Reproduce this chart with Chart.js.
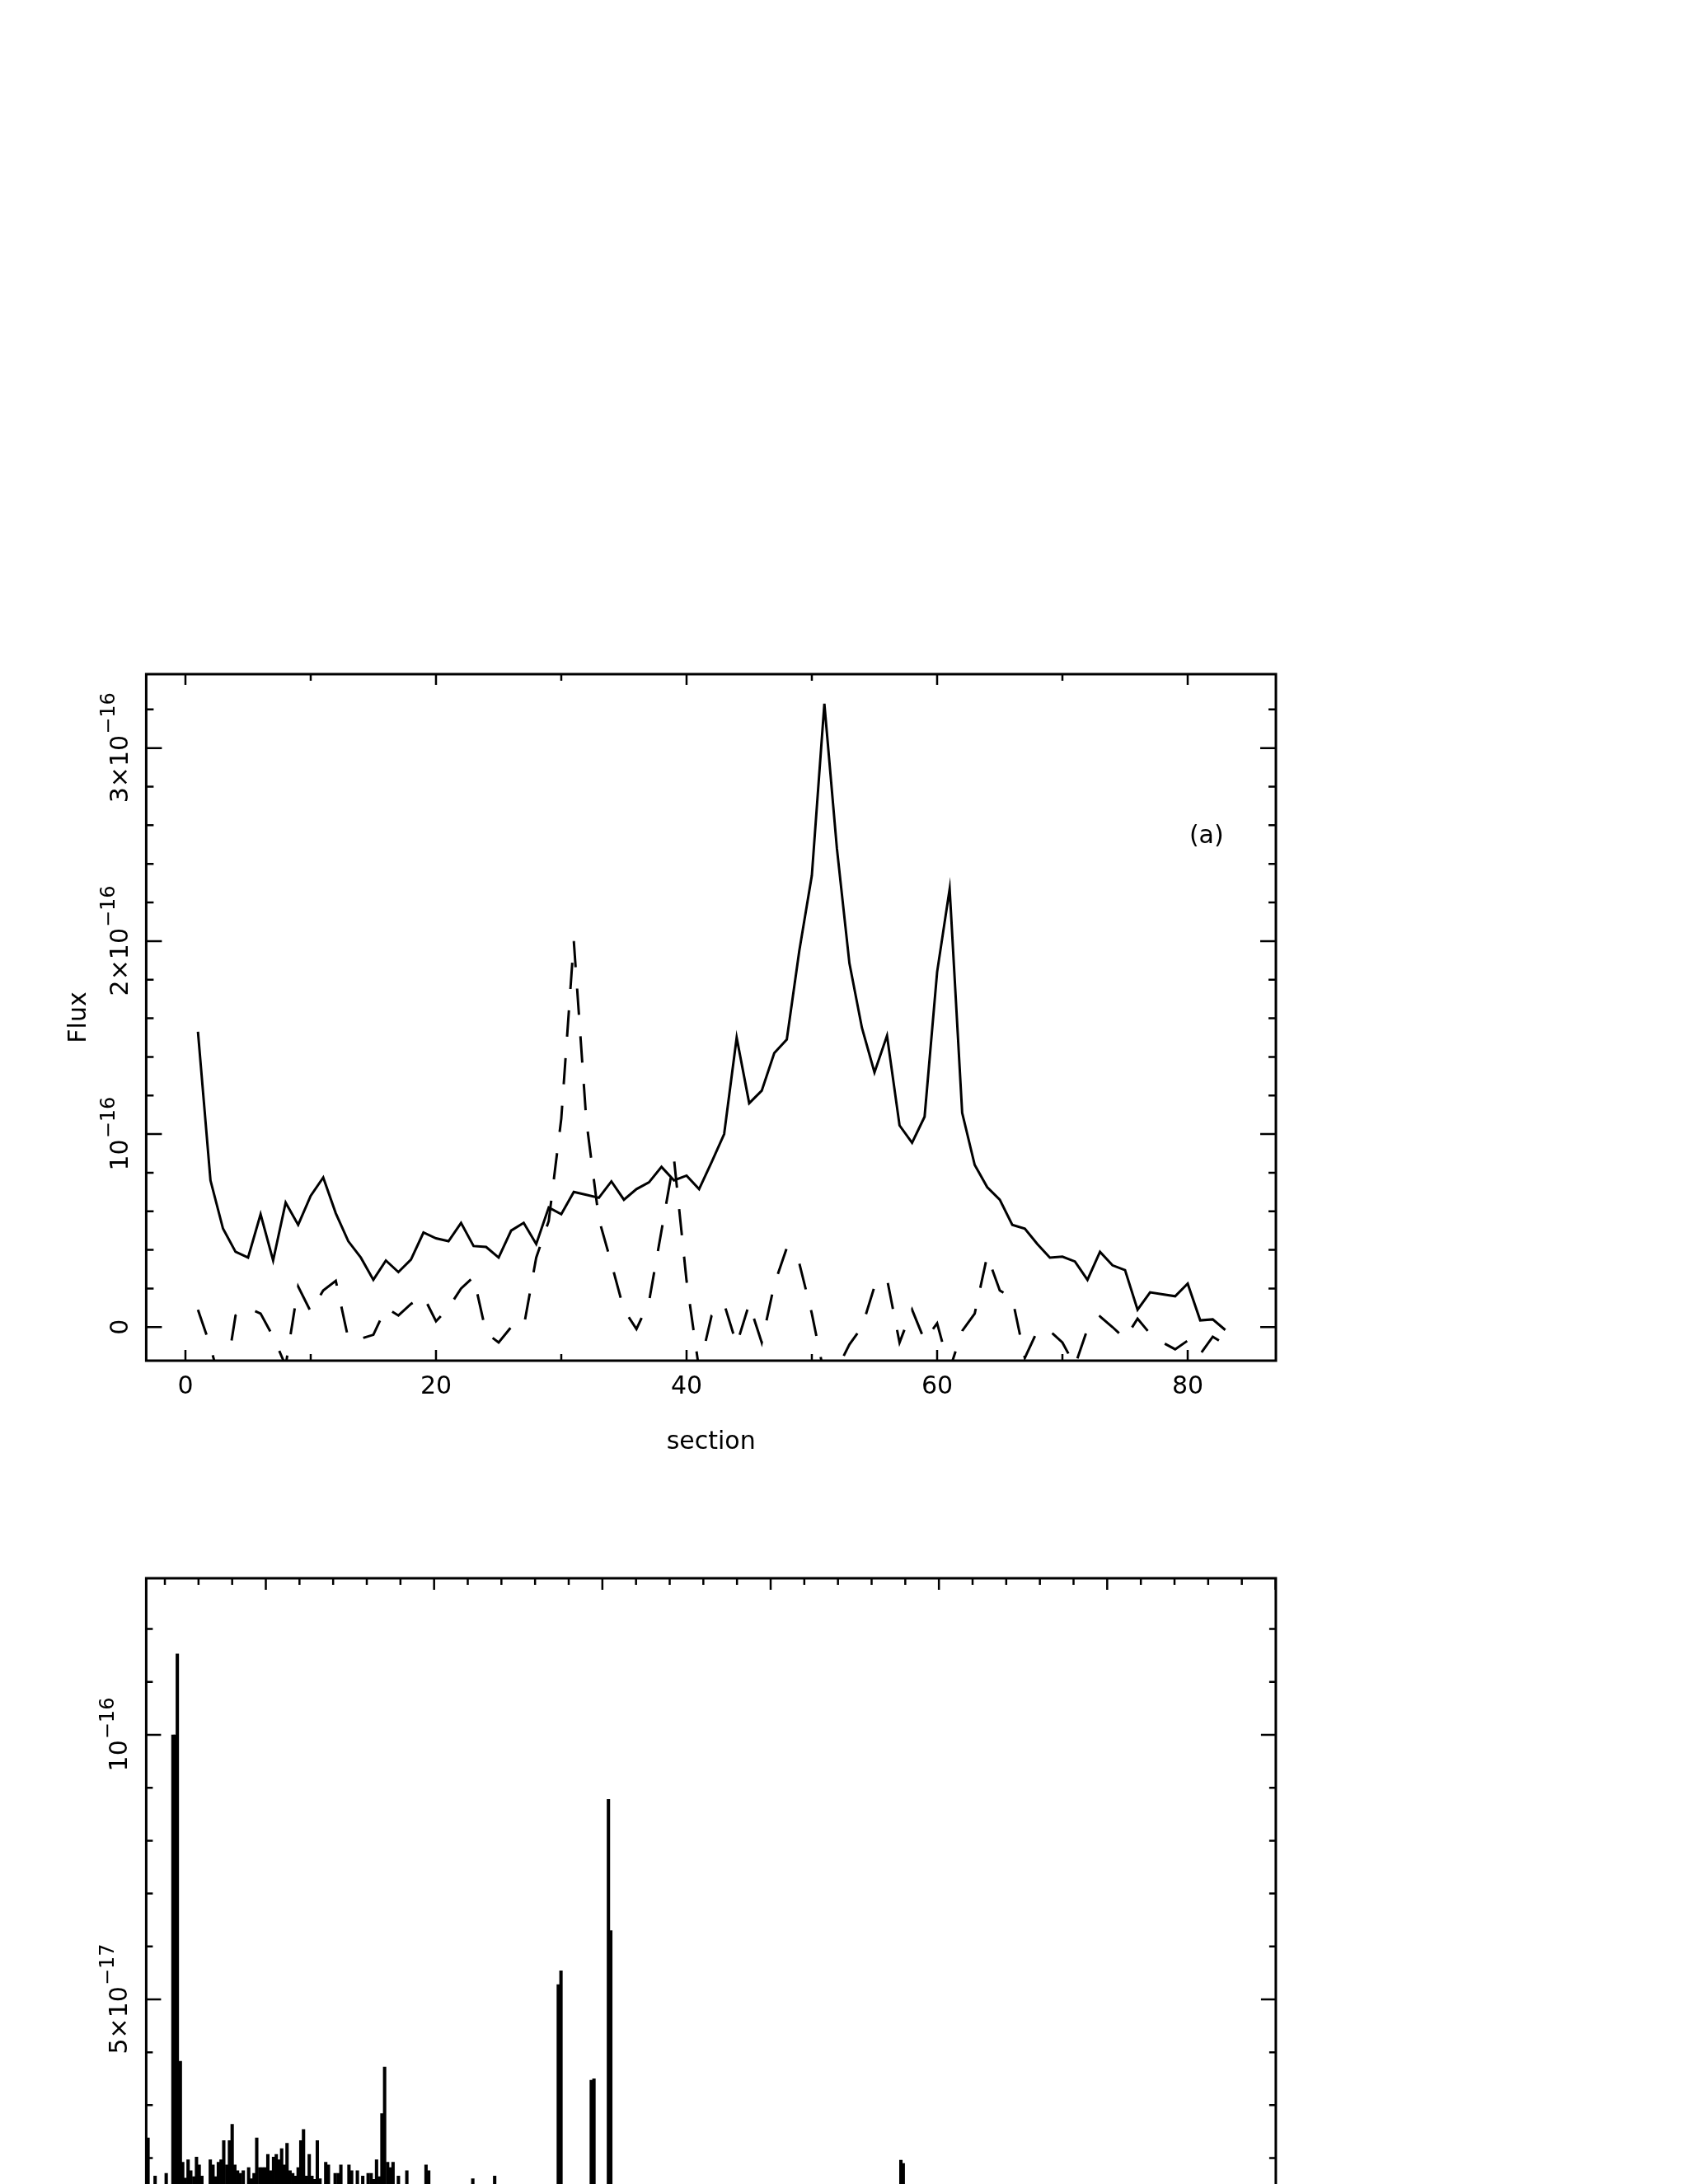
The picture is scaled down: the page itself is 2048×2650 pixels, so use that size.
<!DOCTYPE html>
<html lang="en">
<head>
  <meta charset="UTF-8">
  <title>Flux per section</title>
  <style>
    html, body { margin: 0; padding: 0; background: #fff; }
    body { width: 2048px; height: 2650px; position: relative; overflow: hidden; }
    canvas { position: absolute; left: 0; }
    #chartTop { top: 740px; }
    #chartBot { top: 1860px; }
  </style>
</head>
<body>
  <canvas id="chartTop" width="1600" height="1080"></canvas>
  <canvas id="chartBot" width="1600" height="790"></canvas>

  <script src="https://cdn.jsdelivr.net/npm/chart.js"></script>
  <script>
    // all flux values are in units of 1e-16
    const sections = [1, 2, 3, 4, 5, 6, 7, 8, 9, 10, 11, 12, 13, 14, 15, 16, 17, 18, 19, 20,
      21, 22, 23, 24, 25, 26, 27, 28, 29, 30, 31, 32, 33, 34, 35, 36, 37, 38, 39, 40,
      41, 42, 43, 44, 45, 46, 47, 48, 49, 50, 51, 52, 53, 54, 55, 56, 57, 58, 59, 60,
      61, 62, 63, 64, 65, 66, 67, 68, 69, 70, 71, 72, 73, 74, 75, 76, 77, 78, 79, 80,
      81, 82, 83];

    const fluxSolid = [1.53, 0.76, 0.51, 0.39, 0.36, 0.585, 0.345, 0.645, 0.53, 0.68,
      0.775, 0.59, 0.445, 0.36, 0.245, 0.345, 0.285, 0.35, 0.49, 0.46,
      0.445, 0.54, 0.42, 0.415, 0.36, 0.50, 0.54, 0.43, 0.62, 0.585,
      0.70, 0.685, 0.67, 0.755, 0.66, 0.715, 0.75, 0.83, 0.76, 0.785,
      0.715, 0.855, 1.0, 1.50, 1.16, 1.225, 1.42, 1.49, 1.95, 2.34,
      3.23, 2.48, 1.885, 1.55, 1.32, 1.51, 1.045, 0.955, 1.09, 1.84,
      2.27, 1.11, 0.84, 0.725, 0.66, 0.53, 0.51, 0.43, 0.36, 0.365,
      0.34, 0.245, 0.39, 0.32, 0.295, 0.09, 0.18, 0.17, 0.16, 0.225,
      0.035, 0.04, -0.015];

    const fluxDashed = [0.09, -0.10, -0.35, 0.06, 0.10, 0.07, -0.05, -0.2, 0.21, 0.08,
      0.19, 0.24, -0.06, -0.06, -0.04, 0.10, 0.06, 0.12, 0.16, 0.03,
      0.10, 0.20, 0.26, -0.03, -0.08, 0.0, 0.0, 0.36, 0.55, 1.08,
      2.0, 1.07, 0.56, 0.33, 0.09, -0.01, 0.13, 0.5, 0.87, 0.24,
      -0.22, 0.06, 0.12, -0.09, 0.12, -0.08, 0.22, 0.41, 0.33, 0.07,
      -0.25, -0.22, -0.09, 0.0, 0.21, 0.25, -0.08, 0.09, -0.07, 0.02,
      -0.22, -0.02, 0.07, 0.37, 0.19, 0.15, -0.16, -0.02, -0.02, -0.08,
      -0.2, -0.01, 0.055, 0.0, -0.06, 0.044, -0.035, -0.08, -0.115, -0.07,
      -0.14, -0.05, -0.09];

    const topYTicks = [0, 1, 2, 3];
    const topYBase = ['0', '10', '2×10', '3×10'];
    const topYExp = ['', '−16', '−16', '−16'];

    // lower panel: histogram bins (x in axis units, flux in 1e-16)
    const binCenter = [65.0, 67.1, 70.4, 72.4, 73.1, 73.7, 74.6, 75.3, 76.1, 76.9,
      77.7, 78.6, 79.4, 80.2, 81.0, 83.5, 84.3, 85.1, 85.9, 86.7,
      87.5, 88.4, 89.2, 90.0, 90.8, 91.6, 92.4, 93.3, 94.9, 95.7,
      96.5, 97.3, 98.2, 99.0, 99.8, 100.6, 101.4, 102.3, 103.1, 103.9,
      104.7, 105.5, 106.3, 107.2, 108.0, 108.8, 109.6, 110.4, 111.2, 112.1,
      112.9, 113.7, 114.5, 115.3, 116.1, 117.8, 118.6, 120.6, 121.5, 122.3,
      124.7, 125.5, 127.2, 128.8, 130.4, 131.3, 132.1, 132.9, 133.7, 134.5,
      135.3, 136.2, 137.0, 137.8, 139.4, 141.9, 147.6, 148.4, 161.5, 168.0,
      186.9, 187.7, 196.7, 197.5, 201.8, 202.5, 288.7, 289.4];
    const binFlux = [0.238, 0.166, 0.171, 1.0, 1.0, 1.153, 0.383, 0.192, 0.162, 0.197,
      0.176, 0.165, 0.202, 0.187, 0.166, 0.197, 0.187, 0.165, 0.192, 0.197,
      0.233, 0.187, 0.233, 0.264, 0.187, 0.176, 0.171, 0.176, 0.182, 0.161,
      0.171, 0.238, 0.182, 0.182, 0.182, 0.207, 0.176, 0.202, 0.207, 0.197,
      0.218, 0.187, 0.228, 0.176, 0.171, 0.166, 0.182, 0.233, 0.254, 0.166,
      0.207, 0.166, 0.16, 0.233, 0.161, 0.192, 0.187, 0.171, 0.171, 0.187,
      0.187, 0.176, 0.176, 0.166, 0.171, 0.171, 0.16, 0.197, 0.165, 0.284,
      0.372, 0.192, 0.182, 0.192, 0.166, 0.176, 0.187, 0.176, 0.161, 0.166,
      0.528, 0.554, 0.347, 0.350, 0.878, 0.630, 0.196, 0.190];

    const botYTicks = [0.5, 1];
    const botYBase = ['5×10', '10'];
    const botYExp = ['−17', '−16'];

    const FONT = '"DejaVu Sans", sans-serif';
    Chart.defaults.font.family = FONT;
    Chart.defaults.color = '#000';

    function drawRotLabel(ctx, cx, cy, base, exp) {
      ctx.save();
      ctx.translate(cx, cy);
      ctx.rotate(-Math.PI / 2);
      ctx.font = '30px ' + FONT;
      const wb = ctx.measureText(base).width;
      ctx.font = '24px ' + FONT;
      const we = exp ? ctx.measureText(exp).width : 0;
      const x0 = -(wb + we) / 2;
      ctx.textAlign = 'left';
      ctx.textBaseline = 'middle';
      ctx.fillStyle = '#000';
      ctx.font = '30px ' + FONT;
      ctx.fillText(base, x0, 0);
      if (exp) {
        ctx.font = '24px ' + FONT;
        ctx.fillText(exp, x0 + wb + 1, -14);
      }
      ctx.restore();
    }

    // box with inward ticks on every side, like the old plot package
    function framePlugin(cfg) {
      return {
        id: 'frame',
        afterDraw(chart) {
          const { ctx, chartArea: a } = chart;
          const xs = chart.scales.x, ys = chart.scales.y;
          ctx.save();
          ctx.strokeStyle = '#000';
          ctx.lineWidth = 3;
          ctx.beginPath();
          if (cfg.openBottom) {
            ctx.moveTo(a.left, a.bottom + 2);
            ctx.lineTo(a.left, a.top);
            ctx.lineTo(a.right, a.top);
            ctx.lineTo(a.right, a.bottom + 2);
          } else {
            ctx.rect(a.left, a.top, a.right - a.left, a.bottom - a.top);
          }
          ctx.stroke();

          ctx.lineWidth = 2.5;
          ctx.beginPath();
          for (let k = Math.ceil(xs.min / cfg.xStep - 1e-9); k * cfg.xStep <= xs.max + 1e-9; k++) {
            const px = xs.getPixelForValue(k * cfg.xStep);
            const len = k % cfg.xMajorEvery === 0 ? cfg.xMajorLen : cfg.xMinorLen;
            ctx.moveTo(px, a.top); ctx.lineTo(px, a.top + len);
            if (!cfg.openBottom) { ctx.moveTo(px, a.bottom); ctx.lineTo(px, a.bottom - len); }
          }
          for (let k = Math.ceil(ys.min / cfg.yStep - 1e-9); k * cfg.yStep <= ys.max + 1e-9; k++) {
            const py = ys.getPixelForValue(k * cfg.yStep);
            const len = k % cfg.yMajorEvery === 0 ? cfg.yMajorLen : cfg.yMinorLen;
            ctx.moveTo(a.left, py); ctx.lineTo(a.left + len, py);
            ctx.moveTo(a.right, py); ctx.lineTo(a.right - len, py);
          }
          ctx.stroke();

          cfg.yTicks.forEach((v, i) => {
            drawRotLabel(ctx, cfg.labelX, ys.getPixelForValue(v), cfg.yBase[i], cfg.yExp[i]);
          });

          if (cfg.note) {
            ctx.font = '30px ' + FONT;
            ctx.fillStyle = '#000';
            ctx.textAlign = 'center';
            ctx.textBaseline = 'middle';
            ctx.fillText(cfg.note.text, xs.getPixelForValue(cfg.note.x), ys.getPixelForValue(cfg.note.y));
          }
          ctx.restore();
        }
      };
    }

    new Chart(document.getElementById('chartTop'), {
      type: 'line',
      data: {
        datasets: [
          {
            data: sections.map((s, i) => ({ x: s, y: fluxSolid[i] })),
            borderColor: '#000', borderWidth: 3, pointRadius: 0, tension: 0
          },
          {
            data: sections.map((s, i) => ({ x: s, y: fluxDashed[i] })),
            borderColor: '#000', borderWidth: 3, borderDash: [32, 26], pointRadius: 0, tension: 0
          }
        ]
      },
      options: {
        responsive: false,
        animation: false,
        layout: { padding: { top: 78, right: 52, left: 0, bottom: 0 } },
        plugins: { legend: { display: false }, tooltip: { enabled: false } },
        scales: {
          x: {
            type: 'linear', min: -3.13, max: 87.04,
            grid: { display: false, drawTicks: false },
            border: { display: false },
            ticks: {
              stepSize: 10, includeBounds: false, autoSkip: false, maxRotation: 0,
              padding: 14, color: '#000', font: { size: 30 },
              callback: v => (Math.round(v) % 20 === 0 ? String(Math.round(v)) : '')
            },
            title: { display: true, text: 'section', color: '#000', font: { size: 30 }, padding: { top: 0, bottom: 52 } },
            afterFit: s => { s.height = 169; }
          },
          y: {
            type: 'linear', min: -0.174, max: 3.383,
            grid: { display: false, drawTicks: false },
            border: { display: false },
            ticks: { display: false, stepSize: 0.2, includeBounds: false },
            title: { display: true, text: 'Flux', color: '#000', font: { size: 30 }, padding: { top: 78, bottom: 0 } },
            afterFit: s => { s.width = 177.4; }
          }
        }
      },
      plugins: [framePlugin({
        xStep: 10, xMajorEvery: 2, xMajorLen: 13, xMinorLen: 8,
        yStep: 0.2, yMajorEvery: 5, yMajorLen: 19, yMinorLen: 9,
        labelX: 147, yTicks: topYTicks, yBase: topYBase, yExp: topYExp,
        note: { x: 81.5, y: 2.54, text: '(a)' }
      })]
    });

    new Chart(document.getElementById('chartBot'), {
      type: 'bar',
      data: {
        datasets: [{
          data: binCenter.map((u, i) => ({ x: u, y: binFlux[i] })),
          backgroundColor: '#000', borderWidth: 0, barThickness: 3.4, grouped: false
        }]
      },
      options: {
        responsive: false,
        animation: false,
        layout: { padding: { top: 55, right: 52.1, left: 177.4, bottom: 0 } },
        plugins: { legend: { display: false }, tooltip: { enabled: false } },
        scales: {
          x: { type: 'linear', display: false, offset: false, min: 64.46, max: 400.1 },
          y: { type: 'linear', display: false, min: 0.151, max: 1.296 }
        }
      },
      plugins: [framePlugin({
        xStep: 10, xMajorEvery: 5, xMajorLen: 14, xMinorLen: 8,
        yStep: 0.1, yMajorEvery: 5, yMajorLen: 18, yMinorLen: 8,
        labelX: 146, yTicks: botYTicks, yBase: botYBase, yExp: botYExp,
        openBottom: true
      })]
    });
  </script>
</body>
</html>
